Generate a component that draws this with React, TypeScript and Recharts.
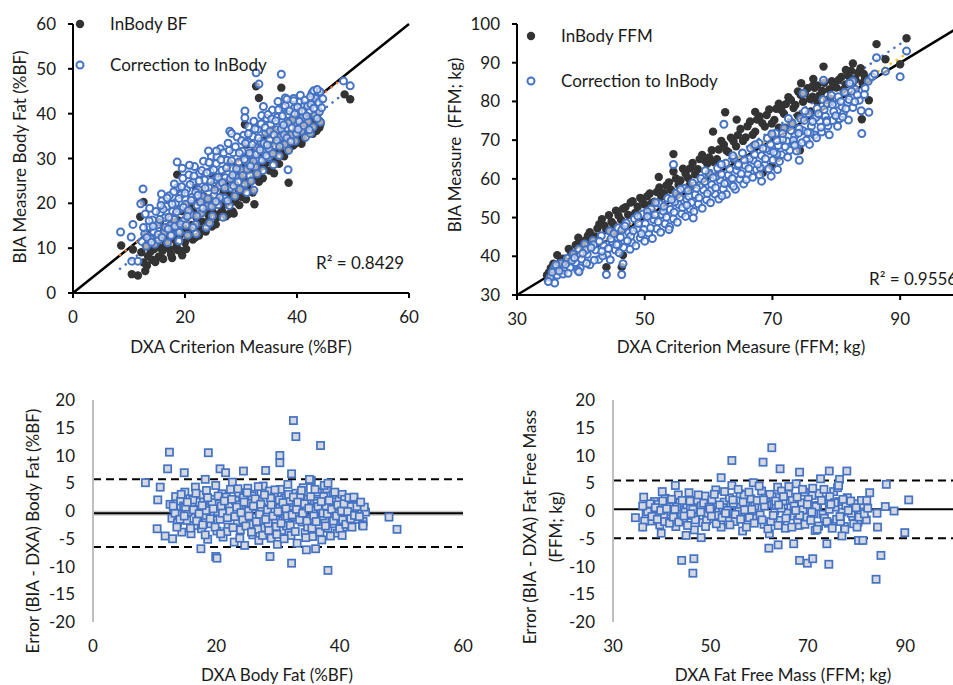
import React from "react";
import { ReferenceLine, Scatter, ScatterChart, XAxis, YAxis } from "recharts";

type Pt = [number, number];

const FONT = "Lato, 'Open Sans', sans-serif";

// axis ticks
const bfTicks = [0, 20, 40, 60];
const bfTicksY = [0, 10, 20, 30, 40, 50, 60];
const ffmTicks = [30, 50, 70, 90];
const ffmTicksY = [30, 40, 50, 60, 70, 80, 90, 100];
const errTicks = [-20, -15, -10, -5, 0, 5, 10, 15, 20];

// %BF: DXA (x) vs InBody (y)
const bfInBody: Pt[] = [
  [12.2, 9.1], [12.6, 6.8], [13.0, 10.6], [13.4, 8.2], [13.8, 11.9], [14.1, 7.4], [14.5, 9.8], [12.9, 12.7],
  [15.0, 10.9], [15.3, 8.1], [15.7, 12.6], [16.0, 9.4], [16.3, 14.1], [16.6, 10.8], [16.9, 13.2], [17.3, 9.7],
  [17.6, 15.4], [17.9, 12.0], [15.5, 15.8], [18.2, 13.6], [18.5, 10.5], [18.8, 16.2], [19.1, 12.9], [19.4, 18.3],
  [19.7, 14.6], [20.0, 11.3], [20.3, 16.9], [20.6, 13.8], [20.9, 19.5], [19.0, 9.5], [21.2, 15.2], [21.5, 18.1],
  [21.8, 12.4], [22.1, 16.7], [22.4, 20.3], [22.7, 14.1], [23.0, 17.9], [23.3, 21.6], [23.6, 15.7], [23.9, 19.2],
  [22.0, 23.4], [24.2, 17.4], [24.5, 21.1], [24.8, 14.8], [25.1, 19.6], [25.4, 23.2], [25.7, 16.9], [26.0, 20.8],
  [26.3, 24.5], [26.6, 18.3], [26.9, 22.4], [25.0, 26.1], [27.2, 19.8], [27.5, 23.7], [27.8, 17.6], [28.1, 21.9],
  [28.4, 25.8], [28.7, 20.4], [29.0, 24.1], [29.3, 27.6], [29.6, 22.5], [29.9, 26.3], [28.0, 28.9], [30.2, 21.4],
  [30.5, 25.2], [30.8, 28.7], [31.1, 23.6], [31.4, 27.3], [31.7, 30.8], [32.0, 25.4], [32.3, 29.1], [32.6, 32.5],
  [32.9, 27.2], [31.0, 33.1], [33.2, 24.8], [33.5, 30.6], [33.8, 33.9], [34.1, 28.3], [34.4, 31.7], [34.7, 35.2],
  [35.0, 29.6], [35.3, 33.1], [35.6, 36.4], [35.9, 26.7], [36.2, 31.4], [36.5, 34.7], [36.8, 28.8], [37.1, 33.0],
  [37.4, 36.9], [37.7, 30.5], [38.0, 34.6], [38.3, 37.8], [38.6, 32.1], [39.0, 35.6], [39.3, 38.7], [39.6, 33.2],
  [39.9, 36.8], [40.2, 39.4], [40.5, 34.9], [40.8, 37.3], [41.1, 35.8], [41.6, 36.2], [42.0, 37.1], [42.4, 38.9],
  [42.8, 35.5], [43.2, 37.8], [43.6, 39.6], [44.0, 36.9], [43.9, 38.3],
  [13.2, 6.1], [13.9, 9.3], [14.7, 6.9], [15.4, 10.2], [16.1, 7.6], [16.8, 11.8], [17.5, 8.6], [18.0, 13.1],
  [18.7, 9.6], [19.3, 14.6], [20.2, 9.8], [20.8, 12.6], [21.4, 11.9], [21.9, 14.8], [22.5, 12.8], [23.1, 15.9],
  [23.7, 13.7], [24.3, 16.2], [24.9, 18.1], [25.5, 15.3], [26.1, 17.6], [26.7, 20.1], [27.3, 17.1], [27.9, 20.3],
  [28.5, 18.2], [29.1, 21.1], [29.7, 19.6], [30.3, 23.1], [30.9, 20.9], [31.5, 24.6], [32.1, 22.4], [32.7, 26.1],
  [33.3, 27.8], [33.9, 25.6], [34.5, 29.1], [35.1, 27.3], [35.7, 31.2], [36.3, 29.6], [36.9, 32.4], [37.5, 31.1],
  [38.1, 33.3], [38.7, 35.2], [39.3, 32.9], [39.9, 34.3], [40.5, 36.6], [41.1, 34.4], [41.7, 37.9], [42.3, 35.7],
  [42.9, 38.1], [43.5, 36.2], [44.2, 37.7], [23.5, 20.3], [27.0, 24.8], [30.6, 27.5], [34.2, 31.0], [37.8, 35.5],
  [41.4, 39.2], [20.5, 18.0], [18.4, 15.9], [16.2, 12.9],
  [8.6, 10.6], [10.5, 4.2], [11.6, 3.9], [12.9, 4.9], [12.0, 17.0], [12.6, 20.3], [18.6, 26.4], [17.7, 7.8],
  [19.5, 8.4], [32.7, 46.1], [33.2, 43.5], [37.2, 45.8], [32.4, 19.8], [38.5, 24.6], [40.8, 33.3], [30.7, 37.6],
  [48.5, 44.3], [49.5, 43.2], [43.9, 37.1], [44.0, 38.4], [28.7, 17.7], [14.4, 7.3], [16.4, 11.8], [10.7, 9.7],
];

const bfCorrected: Pt[] = [
  [12.3, 11.5], [12.8, 13.2], [13.1, 10.4], [13.5, 14.8], [13.9, 12.1], [14.2, 16.3], [14.6, 10.9], [12.9, 17.6],
  [13.7, 18.9], [14.4, 13.7], [15.1, 15.2], [15.3, 11.8], [15.6, 17.9], [15.9, 20.6], [16.2, 13.4], [16.4, 16.8],
  [16.7, 19.3], [16.9, 11.2], [17.2, 21.7], [17.4, 15.1], [17.8, 18.2], [17.6, 13.0], [15.8, 22.1], [18.1, 16.4],
  [18.3, 20.1], [18.6, 23.5], [18.8, 14.2], [19.1, 18.7], [19.3, 21.9], [19.6, 25.6], [19.8, 16.1], [20.1, 19.8],
  [20.3, 23.2], [20.5, 12.9], [20.7, 26.4], [18.9, 11.6], [19.5, 27.8], [21.0, 17.5], [21.2, 21.3], [21.5, 24.8],
  [21.7, 28.2], [21.9, 15.3], [22.2, 19.6], [22.4, 23.1], [22.6, 26.7], [22.9, 17.8], [23.1, 21.5], [23.3, 29.4],
  [23.5, 25.2], [23.8, 14.6], [22.0, 13.2], [24.0, 19.4], [24.2, 23.6], [24.5, 27.1], [24.7, 30.5], [24.9, 17.2],
  [25.2, 21.8], [25.4, 25.3], [25.6, 28.9], [25.9, 19.7], [26.1, 23.9], [26.3, 32.2], [26.6, 27.4], [26.8, 16.9],
  [24.4, 15.6], [27.0, 21.2], [27.2, 25.7], [27.5, 29.6], [27.7, 33.4], [27.9, 19.5], [28.2, 23.4], [28.4, 27.8],
  [28.6, 31.3], [28.9, 21.6], [29.1, 25.9], [29.3, 34.8], [29.6, 29.2], [29.8, 23.1], [28.0, 36.1], [30.0, 27.5],
  [30.2, 31.6], [30.5, 35.2], [30.7, 24.3], [30.9, 29.4], [31.2, 33.7], [31.4, 37.1], [31.6, 26.2], [31.9, 30.8],
  [32.1, 34.9], [32.3, 38.3], [32.6, 28.1], [32.8, 32.4], [31.0, 22.4], [33.0, 36.5], [33.2, 29.7], [33.5, 33.8],
  [33.7, 39.6], [33.9, 27.3], [34.2, 31.5], [34.4, 35.7], [34.6, 38.9], [34.9, 30.2], [35.1, 34.1], [35.3, 37.6],
  [35.6, 40.8], [35.8, 28.6], [34.0, 41.6], [36.0, 32.9], [36.3, 36.4], [36.5, 39.2], [36.8, 30.6], [37.0, 34.8],
  [37.3, 38.1], [37.5, 41.4], [37.8, 33.2], [38.0, 36.7], [38.3, 39.8], [38.5, 31.8], [36.6, 42.7], [37.9, 43.5],
  [39.0, 35.3], [39.2, 38.6], [39.5, 41.2], [39.7, 33.9], [40.0, 37.4], [40.3, 40.3], [40.5, 42.6], [40.8, 36.1],
  [41.0, 39.1], [41.3, 41.8], [41.5, 34.7], [42.0, 38.2], [42.3, 40.7], [42.6, 43.1], [42.9, 37.0], [43.2, 39.6],
  [43.5, 42.2], [43.8, 44.3], [44.0, 40.4], [44.2, 38.1], [42.4, 35.6],
  [12.6, 14.6], [13.2, 12.4], [13.6, 16.1], [14.0, 11.3], [14.3, 14.9], [14.8, 18.2], [15.2, 13.1], [15.5, 16.4],
  [15.9, 12.4], [16.1, 18.7], [16.5, 14.6], [16.8, 21.2], [17.1, 16.9], [17.5, 12.8], [17.7, 19.8], [18.0, 22.6],
  [18.2, 14.9], [18.5, 18.1], [18.9, 21.1], [19.2, 15.4], [19.4, 23.7], [19.7, 19.1], [20.0, 22.3], [20.2, 15.1],
  [20.6, 18.4], [20.9, 24.2], [21.1, 20.7], [21.4, 14.6], [21.6, 26.1], [21.9, 22.5], [22.1, 17.2], [22.5, 25.0],
  [22.8, 20.3], [23.0, 27.3], [23.2, 18.9], [23.6, 23.4], [23.9, 26.8], [24.1, 21.0], [24.3, 29.1], [24.6, 24.9],
  [24.8, 19.3], [25.1, 27.5], [25.3, 23.0], [25.7, 30.4], [25.9, 25.8], [26.2, 21.3], [26.4, 29.7], [26.7, 24.6],
  [26.9, 31.3], [27.1, 23.4], [27.4, 27.9], [27.6, 20.6], [27.9, 31.8], [28.1, 25.5], [28.3, 29.5], [28.7, 23.9],
  [29.0, 32.6], [29.2, 27.7], [29.5, 24.8], [29.7, 31.2], [30.1, 34.0], [30.3, 26.2], [30.6, 29.8], [30.8, 33.4],
  [31.1, 27.6], [31.3, 35.5], [31.5, 31.2], [31.8, 24.9], [32.0, 33.1], [32.2, 29.4], [32.5, 36.6], [32.7, 30.9],
  [32.9, 26.6], [33.1, 34.6], [33.4, 31.9], [33.6, 37.7], [33.8, 29.6], [34.1, 33.4], [34.3, 36.9], [34.5, 30.6],
  [34.8, 39.8], [35.0, 32.2], [35.2, 36.1], [35.5, 38.8], [35.7, 31.1], [35.9, 35.3], [36.2, 38.4], [36.4, 34.0],
  [36.7, 40.9], [36.9, 32.7], [37.2, 36.6], [37.4, 39.5], [37.7, 35.3], [37.9, 41.8], [38.2, 34.6], [38.4, 37.9],
  [38.7, 40.6], [38.9, 33.8], [39.1, 36.8], [39.4, 43.4], [39.6, 39.9], [39.9, 35.6], [40.1, 41.5], [40.4, 38.3],
  [40.6, 44.1], [40.9, 40.6], [41.2, 37.3], [41.4, 43.0], [41.7, 39.5], [41.9, 41.7], [42.2, 36.4], [42.5, 42.1],
  [42.7, 44.6], [43.0, 41.2], [43.3, 43.4], [43.6, 38.9], [43.9, 42.5], [44.1, 44.9], [44.4, 41.3], [44.6, 43.3],
  [20.4, 17.1], [22.3, 21.8], [25.5, 20.4], [28.5, 26.3], [31.7, 28.3], [34.7, 33.0], [37.6, 37.5], [40.2, 36.5],
  [15.7, 19.6], [19.0, 13.5], [17.0, 14.3],
  [8.5, 13.6], [12.5, 23.2], [18.6, 29.2], [32.7, 49.1], [33.2, 46.6], [37.2, 48.8], [38.4, 27.5], [48.3, 47.3],
  [49.5, 46.2], [30.7, 40.6], [30.7, 39.1], [10.7, 15.3], [10.4, 12.5], [10.5, 7.1], [11.6, 7.1], [12.1, 19.9],
  [28.3, 35.6], [24.2, 31.7], [25.6, 31.7], [43.0, 45.1], [43.6, 45.4], [42.4, 43.8], [39.4, 42.9], [38.2, 43.2],
  [32.3, 22.9], [18.1, 24.3], [20.8, 28.5],
];

const bfIdentity: Pt[] = [[0, 0], [60, 60]];
const bfFitCorrected: Pt[] = [[8.4, 8.5], [48.6, 48.3]];
const bfFitInBody: Pt[] = [[8.4, 5.4], [48.9, 45.0]];

// FFM (kg): DXA (x) vs InBody (y)
const ffmInBody: Pt[] = [
  [35.0, 35.8], [35.7, 38.1], [36.5, 37.6], [37.3, 39.4], [38.1, 41.9], [38.9, 40.7], [39.6, 44.8], [40.3, 42.6],
  [41.1, 45.3], [41.8, 43.9], [42.6, 47.2], [43.3, 49.6], [44.0, 46.8], [44.8, 48.9], [45.5, 51.8], [46.3, 49.4],
  [47.0, 52.7], [47.8, 53.9], [48.5, 51.2], [49.3, 55.1], [50.0, 53.4], [50.8, 56.2], [51.5, 54.1], [52.3, 57.8],
  [53.0, 56.3], [53.8, 59.1], [54.5, 61.9], [55.3, 58.4], [56.0, 62.6], [56.8, 60.2], [57.5, 64.1], [58.3, 62.5],
  [59.0, 66.2], [59.8, 63.9], [60.5, 67.4], [61.3, 65.1], [62.0, 69.8], [62.8, 67.3], [63.5, 70.6], [64.3, 68.4],
  [65.0, 72.9], [65.8, 70.7], [66.5, 74.8], [67.3, 72.2], [68.0, 76.1], [68.8, 73.5], [69.5, 77.9], [70.3, 75.2],
  [71.0, 79.4], [71.8, 76.8], [72.5, 81.1], [73.3, 78.3], [74.0, 82.6], [74.8, 79.9], [75.5, 83.4], [76.3, 81.2],
  [77.0, 84.1], [77.8, 82.7], [78.5, 80.3], [79.3, 85.2], [80.0, 83.6], [80.8, 86.3], [81.5, 84.4], [82.3, 87.9],
  [83.0, 85.7], [83.8, 88.6], [84.5, 86.2], [60.0, 61.3], [64.0, 64.8], [67.0, 68.5], [70.0, 71.4], [73.0, 74.6],
  [45.0, 46.1], [50.5, 51.2], [55.0, 55.7], [57.0, 58.3], [72.0, 73.2], [76.0, 77.4], [79.0, 80.8],
  [35.3, 37.0], [36.0, 36.2], [36.9, 39.1], [37.7, 38.5], [38.5, 40.6], [39.2, 42.9], [40.0, 43.4], [40.7, 44.1],
  [41.4, 46.2], [42.2, 45.1], [42.9, 48.3], [43.7, 47.9], [44.4, 50.6], [45.1, 48.2], [45.9, 50.5], [46.6, 52.3],
  [47.4, 50.7], [48.1, 54.2], [48.9, 52.8], [49.6, 54.6], [50.4, 55.5], [51.1, 53.7], [51.9, 56.6], [52.6, 55.4],
  [53.4, 58.3], [54.1, 57.2], [54.9, 60.1], [55.6, 59.6], [56.4, 61.3], [57.1, 62.7], [57.9, 61.2], [58.6, 65.1],
  [59.4, 64.8], [60.1, 65.5], [60.9, 64.3], [61.6, 67.6], [62.4, 68.8], [63.1, 66.9], [63.9, 69.7], [64.6, 71.3],
  [65.4, 69.8], [66.1, 73.6], [66.9, 71.4], [67.6, 75.3], [68.4, 74.4], [69.1, 76.5], [69.9, 74.3], [70.6, 78.1],
  [71.4, 77.8], [72.1, 79.3], [72.9, 80.4], [73.6, 79.1], [74.4, 81.7], [75.1, 82.1], [75.9, 80.6], [76.6, 83.5],
  [77.4, 81.6], [78.1, 84.8], [78.9, 83.1], [79.6, 84.2], [80.4, 85.6], [81.1, 83.0], [81.9, 86.6], [82.6, 84.9],
  [83.4, 87.4], [84.1, 84.8], [71.0, 73.2], [74.0, 76.3], [77.0, 79.9],
  [36.3, 40.3], [44.0, 37.2], [46.6, 40.3], [46.4, 37.2], [54.5, 66.4], [52.2, 60.5], [60.7, 72.2], [62.6, 77.2],
  [68.5, 61.6], [69.9, 63.3], [70.8, 65.4], [74.3, 67.4], [74.5, 84.7], [78.0, 89.0], [82.6, 89.8], [86.3, 94.8],
  [87.7, 90.9], [91.0, 96.3], [90.0, 89.6], [85.1, 80.3], [84.0, 75.4], [84.3, 87.1], [81.5, 88.1], [76.4, 85.8],
  [76.3, 84.0], [67.3, 77.3], [64.4, 75.3], [34.7, 35.1],
];

const ffmCorrected: Pt[] = [
  [35.2, 34.6], [35.8, 36.9], [36.3, 35.1], [36.9, 38.2], [37.4, 36.3], [37.9, 39.5], [38.3, 37.1], [38.8, 40.6],
  [39.2, 38.4], [39.7, 41.9], [40.1, 39.3], [40.6, 43.2], [41.0, 40.5], [41.4, 37.8], [41.9, 44.1], [42.3, 41.6],
  [42.8, 39.2], [43.2, 45.3], [43.6, 42.7], [44.1, 40.4], [44.5, 46.5], [44.9, 43.8], [45.4, 41.6], [45.8, 47.4],
  [46.2, 44.9], [46.7, 42.3], [47.1, 48.6], [47.5, 46.1], [48.0, 43.5], [48.4, 49.7], [48.8, 47.2], [49.3, 44.8],
  [49.7, 50.9], [50.1, 48.4], [50.6, 46.0], [51.0, 52.3], [51.4, 49.5], [51.9, 47.1], [52.3, 53.6], [52.7, 50.8],
  [53.2, 48.4], [53.6, 55.0], [54.0, 52.1], [54.5, 49.7], [54.9, 56.3], [55.3, 53.4], [55.8, 51.0], [56.2, 57.5],
  [56.6, 54.7], [57.1, 52.2], [57.5, 58.9], [57.9, 55.9], [58.4, 53.5], [58.8, 60.1], [59.2, 57.2], [59.7, 54.6],
  [60.1, 61.4], [60.5, 58.5], [61.0, 56.1], [61.4, 62.8], [61.8, 59.7], [62.3, 57.4], [62.7, 64.0], [63.1, 61.0],
  [63.6, 58.6], [64.0, 65.3], [64.4, 62.2], [64.9, 59.9], [65.3, 66.7], [65.7, 63.5], [66.2, 61.1], [66.6, 67.9],
  [67.0, 64.8], [67.5, 62.4], [67.9, 69.2], [68.3, 66.0], [68.8, 63.6], [69.2, 70.5], [69.6, 67.3], [70.1, 64.9],
  [70.5, 71.8], [70.9, 68.6], [71.4, 66.2], [71.8, 73.1], [72.2, 69.8], [72.7, 67.4], [73.1, 74.3], [73.5, 71.1],
  [74.0, 68.7], [74.4, 75.6], [74.8, 72.4], [75.3, 70.0], [75.7, 76.9], [76.1, 73.6], [76.6, 71.3], [77.0, 78.2],
  [77.4, 74.9], [77.9, 80.5], [78.3, 76.2], [78.7, 73.7], [79.2, 81.6], [79.6, 77.4], [80.0, 79.3], [80.5, 75.5],
  [80.9, 78.6], [81.3, 82.4], [81.8, 79.7], [82.2, 84.8],
  [36.1, 37.8], [37.2, 35.4], [38.6, 38.9], [39.9, 37.0], [40.8, 41.7], [42.0, 43.0], [43.4, 40.1], [44.7, 44.5],
  [45.9, 43.1], [46.4, 46.8], [47.8, 45.2], [48.9, 50.4], [49.9, 46.9], [50.8, 50.6], [51.7, 53.9], [52.9, 51.7],
  [53.9, 47.6], [54.7, 54.0], [55.6, 57.3], [56.9, 55.5], [57.7, 51.6], [58.6, 58.3], [59.5, 62.1], [60.3, 56.9],
  [61.2, 60.6], [62.0, 63.7], [62.9, 59.1], [63.8, 66.0], [64.6, 63.4], [65.5, 58.7], [66.4, 65.2], [67.3, 68.8],
  [68.1, 62.9], [69.0, 67.8], [69.9, 71.6], [70.7, 66.4], [71.6, 70.2], [72.5, 75.6], [73.3, 69.1], [74.2, 73.0],
  [75.1, 77.5], [75.9, 71.9], [76.8, 75.8], [77.7, 72.1], [78.6, 79.4], [79.4, 75.1], [80.3, 81.2], [81.1, 76.8],
  [82.0, 80.5], [83.0, 83.1], [82.6, 78.4], [83.6, 80.3],
  [35.5, 35.9], [36.6, 36.2], [37.6, 37.9], [38.0, 35.6], [39.0, 39.6], [39.5, 36.4], [40.3, 40.8], [40.9, 38.2],
  [41.6, 42.2], [42.1, 39.0], [42.9, 43.9], [43.3, 41.3], [44.3, 42.0], [44.6, 39.1], [45.2, 45.9], [45.6, 43.0],
  [46.0, 40.9], [46.9, 47.8], [47.3, 44.0], [47.7, 41.8], [48.2, 46.6], [48.6, 42.7], [49.0, 48.5], [49.5, 45.8],
  [50.0, 43.9], [50.4, 51.6], [50.9, 47.3], [51.2, 44.6], [51.6, 50.7], [52.1, 48.9], [52.5, 46.2], [53.0, 52.9],
  [53.4, 50.1], [53.8, 46.9], [54.2, 54.6], [54.6, 51.4], [55.1, 48.8], [55.5, 55.2], [55.9, 52.6], [56.4, 50.3],
  [56.8, 57.0], [57.3, 53.9], [57.6, 49.9], [58.1, 57.6], [58.5, 55.1], [59.0, 52.4], [59.4, 59.3], [59.8, 56.2],
  [60.3, 53.8], [60.7, 60.3], [61.1, 57.7], [61.6, 54.8], [62.0, 61.2], [62.5, 58.8], [62.8, 56.0], [63.3, 62.5],
  [63.7, 60.1], [64.2, 57.3], [64.7, 63.8], [65.1, 61.3], [65.6, 64.9], [65.9, 59.8], [66.3, 62.7], [66.9, 60.4],
  [67.2, 66.3], [67.7, 63.8], [68.0, 61.0], [68.5, 67.9], [68.9, 65.2], [69.4, 62.6], [69.7, 68.9], [70.2, 66.9],
  [70.7, 69.9], [71.1, 64.5], [71.6, 71.7], [72.0, 68.3], [72.4, 65.6], [72.9, 72.5], [73.3, 70.0], [73.8, 67.2],
  [74.1, 71.8], [74.6, 69.3], [75.0, 75.1], [75.5, 72.0], [75.8, 68.9], [76.3, 74.8], [76.9, 70.6], [77.2, 76.8],
  [77.6, 73.3], [78.1, 77.9], [78.5, 75.0], [78.9, 71.4], [79.4, 79.2], [79.9, 76.3], [80.2, 73.6], [80.7, 80.0],
  [81.5, 78.1], [81.9, 75.2], [82.4, 82.6], [82.9, 79.9], [83.3, 81.7], [83.9, 77.6], [84.5, 83.4], [85.0, 85.2],
  [85.6, 86.4],
  [44.0, 35.3], [46.4, 35.3], [46.6, 38.1], [39.7, 36.0], [35.9, 33.1], [34.9, 33.5], [54.5, 63.7], [62.1, 55.6],
  [62.4, 74.1], [63.9, 58.1], [68.3, 59.4], [69.8, 60.7], [70.8, 62.4], [74.2, 64.8], [73.5, 68.7], [78.5, 74.7],
  [81.0, 76.0], [84.0, 71.7], [85.1, 77.2], [84.4, 81.8], [90.0, 86.4], [91.0, 93.0], [86.3, 91.3], [87.7, 87.8],
  [86.0, 87.1], [78.0, 85.5], [82.6, 85.3], [82.1, 84.7], [74.8, 82.1], [56.6, 53.2], [50.4, 50.3],
];

const ffmIdentity: Pt[] = [[30, 30], [100, 100]];
const ffmFitCorrected: Pt[] = [[34.6, 34.8], [90.5, 91.8]];
const ffmFitInBody: Pt[] = [[34.6, 33.6], [90.5, 95.4]];

// Bland-Altman, %BF: DXA (x) vs error (y)
const bfError: Pt[] = [
  [12.5, 1.2], [12.8, -1.3], [13.1, 0.4], [13.4, 2.6], [13.7, -2.1], [13.9, -0.6], [14.2, 1.8], [14.4, -3.8],
  [14.7, 0.9], [14.9, 3.4], [15.2, -1.7], [15.4, -0.2], [15.7, 2.2], [15.9, -4.1], [16.1, 1.1], [16.4, -2.6],
  [16.6, 4.3], [16.9, 0.3], [17.1, -1.1], [17.4, 2.9], [17.6, -3.2], [17.9, 1.6], [18.1, -0.8], [18.4, 3.7],
  [18.6, -5.1], [18.9, 0.6], [19.1, -2.3], [19.4, 2.1], [19.6, -0.4], [19.9, 4.6], [20.1, -3.6], [20.4, 1.3],
  [20.6, -1.5], [20.9, 3.1], [21.1, -4.7], [21.4, 0.2], [21.6, 2.5], [21.9, -2.9], [22.1, 1.0], [22.4, -0.9],
  [22.6, 5.2], [22.9, -5.6], [23.1, 1.9], [23.4, -1.9], [23.6, 3.3], [23.9, -3.4], [24.1, 0.5], [24.4, 2.4],
  [24.6, -6.2], [24.9, -0.7], [25.1, 4.1], [25.4, -2.4], [25.6, 1.4], [25.9, -4.3], [26.1, 3.0], [26.4, -1.2],
  [26.6, 0.8], [26.9, -5.3], [27.1, 2.0], [27.4, -3.0], [27.6, 4.5], [27.9, -0.3], [28.1, 1.7], [28.4, -2.2],
  [28.6, 3.6], [28.9, -4.9], [29.1, 0.1], [29.4, 2.7], [29.6, -1.6], [29.9, -6.0], [30.1, 1.2], [30.4, 3.9],
  [30.6, -3.5], [30.9, -0.5], [31.1, 2.3], [31.4, -2.7], [31.6, 4.8], [31.9, 0.7], [32.1, -4.4], [32.4, 1.5],
  [32.6, -1.0], [32.9, 3.2], [33.1, -5.8], [33.4, -0.1], [33.6, 2.8], [33.9, -2.0], [34.1, 4.2], [34.4, -3.9],
  [34.6, 0.9], [34.9, 2.1], [35.1, -1.4], [35.4, 5.5], [35.6, -4.6], [35.9, 1.8], [36.1, -0.6], [36.4, 3.4],
  [36.6, -2.5], [36.9, 0.3], [37.1, -5.2], [37.4, 2.6], [37.6, -1.8], [37.9, 4.0], [38.1, -3.1], [38.4, 1.0],
  [38.6, -0.2], [38.9, 2.9], [39.1, -2.3], [39.4, 0.6], [39.6, -4.0], [39.9, 1.9], [40.1, -1.1], [40.4, 3.0],
  [40.6, -2.9], [40.9, 0.4], [41.1, -0.8], [41.4, 1.5], [41.6, -2.1], [41.9, -0.3], [42.1, 0.9], [42.6, -1.5],
  [43.0, -0.6], [43.5, 0.3], [43.8, -1.9], [44.2, -0.2],
  [13.3, -0.4], [14.1, -1.5], [15.0, 0.7], [16.2, 2.0], [16.8, -1.8], [17.8, -2.5], [18.3, 0.1], [19.3, 1.5],
  [20.2, -0.1], [20.8, 0.9], [21.7, -3.7], [22.3, 3.9], [22.8, -0.4], [23.7, 1.1], [24.3, -1.6], [25.2, 0.0],
  [25.8, 2.7], [26.7, -3.3], [27.3, 0.6], [28.2, -0.8], [28.8, 2.3], [29.7, -2.8], [30.3, 0.5], [31.2, -1.3],
  [31.8, 1.9], [32.7, -0.4], [33.3, 1.1], [34.2, -1.1], [34.8, -2.9], [35.7, 0.2], [36.3, 1.4], [37.2, -0.9],
  [37.8, 0.8], [38.8, -1.2], [39.8, -0.5], [40.8, 2.1], [41.8, 0.8], [42.3, 2.3],
  [13.0, 0.9], [13.6, -2.9], [14.3, 3.0], [14.8, -0.9], [15.3, 1.6], [15.8, -3.1], [16.3, 0.2], [16.7, 3.2],
  [17.2, -0.5], [17.7, 1.0], [18.2, -4.3], [18.6, 2.4], [19.0, -1.4], [19.5, 0.4], [19.8, -2.9], [20.3, 2.7],
  [20.7, -4.1], [21.0, -0.4], [21.3, 1.8], [21.8, -1.2], [22.2, 0.0], [22.5, 2.1], [22.7, -3.0], [23.0, -1.0],
  [23.3, 0.7], [23.5, 4.0], [23.8, -4.9], [24.0, -0.3], [24.5, 1.6], [24.8, -2.7], [25.0, 3.3], [25.3, -0.9],
  [25.7, -3.8], [26.0, 0.9], [26.3, 2.2], [26.5, -1.9], [26.8, 4.4], [27.0, -0.6], [27.2, 1.2], [27.5, -4.4],
  [27.8, 2.9], [28.0, -1.5], [28.3, 0.2], [28.5, -3.5], [28.9, 1.1], [29.2, -0.9], [29.5, 3.8], [29.8, -4.2],
  [30.0, -0.1], [30.2, 2.0], [30.5, -2.2], [30.8, 1.5], [31.0, -5.0], [31.3, 0.4], [31.5, -0.9], [31.7, 3.0],
  [32.0, -2.6], [32.3, -0.7], [32.5, 2.5], [32.8, -3.7], [33.0, 0.3], [33.2, 1.6], [33.5, -1.6], [33.8, 3.7],
  [34.0, -0.4], [34.3, 1.3], [34.5, -4.8], [34.7, -1.8], [35.0, 0.5], [35.3, 2.6], [35.5, -3.1], [35.8, -0.9],
  [36.0, 3.9], [36.2, -1.9], [36.5, 0.8], [36.8, -3.8], [37.0, 1.7], [37.3, -0.4], [37.5, 4.6], [37.7, -2.7],
  [38.0, -0.5], [38.3, 1.9], [38.5, -4.5], [38.7, 0.3], [39.0, -1.8], [39.2, 3.4], [39.5, -0.9], [39.7, 1.1],
  [40.0, -3.2], [40.3, 0.0], [40.5, -1.6], [40.7, 1.3], [41.0, -2.4], [41.3, -0.1], [41.5, 2.4], [41.8, -1.4],
  [42.0, -2.9], [42.4, -0.8], [42.8, 0.8], [43.2, -1.0], [43.7, -2.5], [44.0, 0.7],
  [8.5, 5.1], [10.9, 4.3], [10.5, 2.0], [10.4, -3.2], [11.7, -4.5], [12.4, 10.6], [12.1, 7.6], [12.9, -5.0],
  [18.7, 10.5], [20.6, 7.6], [21.5, 6.9], [17.5, -6.8], [19.9, -8.2], [20.1, -8.5], [28.7, -8.2], [32.5, 16.3],
  [32.9, 13.4], [36.9, 11.8], [30.3, 10.0], [30.3, 8.7], [32.2, 6.7], [28.0, 7.3], [24.4, 7.2], [32.2, -9.4],
  [38.1, -10.7], [48.0, -1.1], [49.3, -3.3], [42.3, 2.5], [43.4, 1.6], [43.8, -2.7], [40.4, -4.4], [34.6, -7.0],
  [36.1, -6.8], [14.8, 6.9], [18.2, 5.7], [38.1, 5.0], [35.1, 5.7],
];
const bfLimits = [5.7, -6.5];
const bfMeanError = -0.4;

// Bland-Altman, FFM: DXA (x) vs error (y)
const ffmError: Pt[] = [
  [36.8, -0.6], [37.4, 0.9], [37.9, -1.8], [38.5, 1.7], [39.0, -0.3], [39.6, -2.5], [40.1, 0.6], [40.7, 2.3],
  [41.2, -1.2], [41.8, -0.1], [42.3, 1.4], [42.9, -2.8], [43.4, 2.9], [44.0, 0.2], [44.5, -1.6], [45.1, 1.1],
  [45.6, 3.3], [46.2, -0.8], [46.7, -3.4], [47.3, 1.9], [47.8, 0.4], [48.4, -2.1], [48.9, 2.7], [49.5, -0.4],
  [50.0, 1.2], [50.6, -1.4], [51.1, 3.8], [51.7, 0.1], [52.2, -2.9], [52.8, 1.6], [53.3, -0.7], [53.9, 2.4],
  [54.4, 4.6], [55.0, -1.9], [55.5, 0.7], [56.1, 3.1], [56.6, -3.6], [57.2, 1.0], [57.7, -0.5], [58.3, 2.2],
  [58.8, 5.1], [59.4, -1.3], [59.9, 0.5], [60.5, 3.6], [61.0, -2.4], [61.6, 1.3], [62.1, -4.1], [62.7, 2.6],
  [63.2, 0.0], [63.8, 4.3], [64.3, -1.7], [64.9, 1.8], [65.4, -3.1], [66.0, 3.0], [66.5, 0.6], [67.1, -0.9],
  [67.6, 4.9], [68.2, -2.6], [68.7, 1.5], [69.3, 3.4], [69.8, -1.1], [70.4, 0.3], [70.9, 2.8], [71.5, -3.5],
  [72.0, 1.0], [72.6, 5.8], [73.1, -0.6], [73.7, 2.0], [74.2, -2.2], [74.8, 0.9], [75.3, 3.5], [75.9, -1.5],
  [76.4, 1.7], [77.0, -0.2], [77.5, -2.8], [78.1, 2.4], [78.6, 0.4], [79.2, -1.0], [79.7, 1.3], [80.3, -2.0],
  [80.8, 0.0], [81.4, 1.1], [82.0, -1.6],
  [38.2, 0.3], [39.3, 1.2], [40.4, -1.0], [41.5, 0.8], [42.6, -0.5], [43.7, 1.5], [44.8, -0.2], [45.9, 0.5],
  [47.0, -1.1], [48.1, 0.9], [49.2, -1.7], [50.3, 2.0], [51.4, -0.8], [52.5, 0.6], [53.6, -1.8], [54.7, 1.4],
  [55.8, -0.1], [56.9, 2.9], [58.0, -1.2], [59.1, 0.9], [60.2, -0.7], [61.3, 2.3], [62.4, -1.9], [63.5, 1.0],
  [64.6, 3.6], [65.7, -0.4], [66.8, 1.9], [67.9, -1.6], [69.0, 0.2], [70.1, 2.1], [71.2, -0.5], [72.3, 3.2],
  [73.4, -1.3], [74.5, 2.6], [75.6, 0.7], [76.7, -1.9], [77.8, 1.0], [78.9, -0.4],
  [36.5, -1.8], [37.1, -0.1], [37.6, 1.3], [38.0, -1.0], [38.7, 0.6], [39.1, -1.5], [39.8, 0.1], [40.2, 1.8],
  [40.6, -1.9], [41.0, 0.4], [41.6, -2.2], [42.0, 2.1], [42.4, -1.1], [43.1, 0.7], [43.5, -2.0], [44.2, 1.9],
  [44.6, -0.9], [45.3, -2.6], [45.8, 1.8], [46.4, 0.3], [46.9, -1.6], [47.5, 2.9], [48.0, -0.2], [48.6, 1.4],
  [49.0, -2.8], [49.7, 0.7], [50.2, -0.9], [50.8, 3.0], [51.2, -2.3], [51.9, 1.1], [52.4, -1.2], [52.9, 3.5],
  [53.5, 0.1], [54.0, -2.5], [54.6, 2.0], [55.1, -0.6], [55.7, 3.9], [56.2, -1.5], [56.7, 1.6], [57.4, -2.9],
  [57.9, 3.4], [58.5, 0.3], [59.0, -2.2], [59.6, 1.9], [60.0, 4.5], [60.6, -1.6], [61.1, 0.9], [61.8, -3.2],
  [62.2, 3.0], [62.9, -0.8], [63.4, 1.8], [63.9, -2.6], [64.5, 0.5], [65.0, 2.6], [65.5, -1.3], [66.1, 4.4],
  [66.7, -2.9], [67.2, 0.9], [67.8, 2.5], [68.3, -0.8], [68.9, 3.9], [69.4, -2.4], [69.9, 1.2], [70.6, -1.7],
  [71.0, 4.1], [71.7, 0.8], [72.2, -2.7], [72.8, 1.9], [73.3, 3.9], [73.9, -1.9], [74.4, 0.3], [75.0, -3.1],
  [75.5, 1.5], [76.1, 4.2], [76.6, -1.0], [77.2, 2.1], [77.6, -3.3], [78.3, 0.1], [78.8, 1.8], [79.4, -2.3],
  [79.9, 0.6], [80.5, -1.1], [81.0, 1.9], [81.6, -0.5], [82.3, 0.5], [64.0, 1.1], [60.9, 2.0], [57.0, 0.2],
  [53.1, -0.4], [49.9, 0.4], [46.0, -0.5], [42.7, 0.3], [67.5, 0.1], [70.8, -0.2], [74.7, 1.2],
  [34.6, -1.2], [36.1, -2.9], [36.3, 2.5], [36.1, 0.9], [39.9, -4.0], [40.1, 3.5], [42.8, 4.6], [44.1, -8.9],
  [46.6, -8.6], [46.4, -11.2], [45.0, -4.4], [48.1, -4.8], [52.2, 6.0], [54.4, 9.1], [60.8, 8.8], [62.6, 11.4],
  [62.0, -6.7], [63.9, -6.1], [64.3, 7.6], [67.1, -5.9], [68.3, -8.9], [69.9, -9.4], [71.0, -8.6], [68.3, 7.0],
  [74.4, 7.2], [74.3, -9.6], [73.9, -5.9], [78.0, 7.2], [76.5, 5.7], [76.3, 4.6], [82.7, 3.3], [82.1, 1.9],
  [84.2, -0.4], [84.3, -2.9], [85.0, -8.0], [84.0, -12.3], [86.1, 4.8], [85.9, 0.8], [87.7, 0.0], [89.9, -3.9],
  [90.7, 2.0], [80.1, -2.9], [80.4, -5.3], [81.3, -5.3], [77.0, -4.5], [71.9, -3.3],
];
const ffmLimits = [5.5, -4.9];
const ffmMeanError = 0.3;

const toXY = (pts: Pt[]) => pts.map(([x, y]) => ({ x, y }));

const DarkDot = (p: any) => <circle cx={p.cx} cy={p.cy} r={4.2} fill="#333333" />;
const OpenRing = (p: any) => (
  <circle cx={p.cx} cy={p.cy} r={3.5} fill="#ffffff" fillOpacity={0.6} stroke="#4472c4" strokeWidth={2} />
);
const OpenSquare = (p: any) => (
  <rect x={p.cx - 3.6} y={p.cy - 3.6} width={7.2} height={7.2} fill="#d5d8de" stroke="#4472c4" strokeWidth={1.7} />
);

const tickStyle = { fill: "#1a1a1a", fontSize: 17, fontFamily: FONT };
const blackLine = { stroke: "#000", strokeWidth: 2 };
const grayLine = { stroke: "#bfbfbf", strokeWidth: 2 };

function Txt({ x, y, rotate = 0, left = false, size = 17, children }: any) {
  return (
    <div
      style={{
        position: "absolute",
        left: x,
        top: y,
        transform: `translate(${left ? "0" : "-50%"}, -50%) rotate(${rotate}deg)`,
        whiteSpace: "nowrap",
        fontFamily: FONT,
        fontSize: size,
        color: "#1a1a1a",
        lineHeight: 1.55,
        textAlign: "center",
      }}
    >
      {children}
    </div>
  );
}

function LegendRow({ x, y, marker, label }: any) {
  return (
    <>
      <svg style={{ position: "absolute", left: x - 6, top: y - 6 }} width={12} height={12}>
        {marker === "dot" ? <DarkDot cx={6} cy={6} /> : <OpenRing cx={6} cy={6} />}
      </svg>
      <Txt x={x + 30} y={y} left>
        {label}
      </Txt>
    </>
  );
}

export default function App() {
  return (
    <div
      style={{
        position: "absolute",
        left: 0,
        top: 0,
        width: 953,
        height: 685,
        overflow: "hidden",
        background: "#fff",
      }}
    >
      {/* top left: %BF */}
      <div style={{ position: "absolute", left: 0, top: 0 }}>
        <ScatterChart width={470} height={360} margin={{ top: 24, right: 61, bottom: 37, left: 23 }}>
          <XAxis type="number" dataKey="x" domain={[0, 60]} ticks={bfTicks} interval={0} height={30}
            axisLine={blackLine} tickLine={blackLine} tickSize={5} tickMargin={13} tick={tickStyle} />
          <YAxis type="number" dataKey="y" domain={[0, 60]} ticks={bfTicksY} interval={0} width={50}
            axisLine={blackLine} tickLine={blackLine} tickSize={5} tickMargin={12} tick={tickStyle} />
          <ReferenceLine segment={toXY(bfIdentity)} stroke="#000" strokeWidth={2.5} />
          <Scatter data={toXY(bfInBody)} shape={DarkDot} isAnimationActive={false} />
          <Scatter data={toXY(bfCorrected)} shape={OpenRing} isAnimationActive={false} />
          <ReferenceLine segment={toXY(bfFitCorrected)} stroke="#ed7d31" strokeWidth={2.5}
            strokeDasharray="0.1 7" strokeLinecap="round" />
          <ReferenceLine segment={toXY(bfFitInBody)} stroke="#4472c4" strokeWidth={2.5}
            strokeDasharray="0.1 7" strokeLinecap="round" />
        </ScatterChart>
      </div>

      {/* top right: FFM */}
      <div style={{ position: "absolute", left: 470, top: 0 }}>
        <ScatterChart width={520} height={360} margin={{ top: 24, right: 26, bottom: 35, left: 0 }}>
          <XAxis type="number" dataKey="x" domain={[30, 100]} ticks={ffmTicks} interval={0} height={30}
            axisLine={blackLine} tickLine={blackLine} tickSize={5} tickMargin={13} tick={tickStyle} />
          <YAxis type="number" dataKey="y" domain={[30, 100]} ticks={ffmTicksY} interval={0} width={47}
            axisLine={blackLine} tickLine={blackLine} tickSize={5} tickMargin={12} tick={tickStyle} />
          <ReferenceLine segment={toXY(ffmIdentity)} stroke="#000" strokeWidth={2.5} />
          <Scatter data={toXY(ffmInBody)} shape={DarkDot} isAnimationActive={false} />
          <Scatter data={toXY(ffmCorrected)} shape={OpenRing} isAnimationActive={false} />
          <ReferenceLine segment={toXY(ffmFitCorrected)} stroke="#ffc000" strokeWidth={2.5}
            strokeDasharray="0.1 7" strokeLinecap="round" />
          <ReferenceLine segment={toXY(ffmFitInBody)} stroke="#4472c4" strokeWidth={2.5}
            strokeDasharray="0.1 7" strokeLinecap="round" />
        </ScatterChart>
      </div>

      {/* bottom left: %BF error */}
      <div style={{ position: "absolute", left: 0, top: 380 }}>
        <ScatterChart width={480} height={305} margin={{ top: 20, right: 17, bottom: 33, left: 43 }}>
          <XAxis type="number" dataKey="x" domain={[0, 60]} ticks={bfTicks} interval={0} height={30}
            axisLine={false} tickLine={false} tickSize={5} tickMargin={13} tick={tickStyle} />
          <YAxis type="number" dataKey="y" domain={[-20, 20]} ticks={errTicks} interval={0} width={50}
            axisLine={grayLine} tickLine={false} tickSize={5} tickMargin={13} tick={tickStyle} />
          <ReferenceLine y={bfMeanError} stroke="#c8c8c8" strokeWidth={5} />
          <ReferenceLine y={bfMeanError} stroke="#000" strokeWidth={2} />
          {bfLimits.map((v) => (
            <ReferenceLine key={v} y={v} stroke="#000" strokeWidth={2} strokeDasharray="8 5" />
          ))}
          <Scatter data={toXY(bfError)} shape={OpenSquare} isAnimationActive={false} />
        </ScatterChart>
      </div>

      {/* bottom right: FFM error */}
      <div style={{ position: "absolute", left: 480, top: 380 }}>
        <ScatterChart width={500} height={305} margin={{ top: 20, right: 26, bottom: 33, left: 83 }}>
          <XAxis type="number" dataKey="x" domain={[30, 100]} ticks={ffmTicks} interval={0} height={30}
            axisLine={false} tickLine={false} tickSize={5} tickMargin={13} tick={tickStyle} />
          <YAxis type="number" dataKey="y" domain={[-20, 20]} ticks={errTicks} interval={0} width={50}
            axisLine={grayLine} tickLine={false} tickSize={5} tickMargin={13} tick={tickStyle} />
          <ReferenceLine y={ffmMeanError} stroke="#000" strokeWidth={2} />
          {ffmLimits.map((v) => (
            <ReferenceLine key={v} y={v} stroke="#000" strokeWidth={2} strokeDasharray="8 5" />
          ))}
          <Scatter data={toXY(ffmError)} shape={OpenSquare} isAnimationActive={false} />
        </ScatterChart>
      </div>

      {/* legends */}
      <LegendRow x={80} y={24} marker="dot" label="InBody BF" />
      <LegendRow x={80} y={65} marker="ring" label="Correction to InBody" />
      <LegendRow x={531} y={36} marker="dot" label="InBody FFM" />
      <LegendRow x={531} y={81} marker="ring" label="Correction to InBody" />

      {/* R² labels */}
      <Txt x={316} y={263} left>R² = 0.8429</Txt>
      <Txt x={869} y={279} left>R² = 0.9556</Txt>

      {/* axis titles */}
      <Txt x={20} y={157} rotate={-90}>BIA Measure Body Fat (%BF)</Txt>
      <Txt x={241} y={347}>DXA Criterion Measure (%BF)</Txt>
      <Txt x={455} y={145} rotate={-90}>BIA Measure&nbsp; (FFM; kg)</Txt>
      <Txt x={741} y={347}>DXA Criterion Measure (FFM; kg)</Txt>
      <Txt x={33} y={531} rotate={-90}>Error (BIA - DXA) Body Fat (%BF)</Txt>
      <Txt x={277} y={675}>DXA Body Fat (%BF)</Txt>
      <Txt x={543} y={527} rotate={-90}>
        Error (BIA - DXA) Fat Free Mass
        <br />
        (FFM; kg)
      </Txt>
      <Txt x={783} y={675}>DXA Fat Free Mass (FFM; kg)</Txt>
    </div>
  );
}
